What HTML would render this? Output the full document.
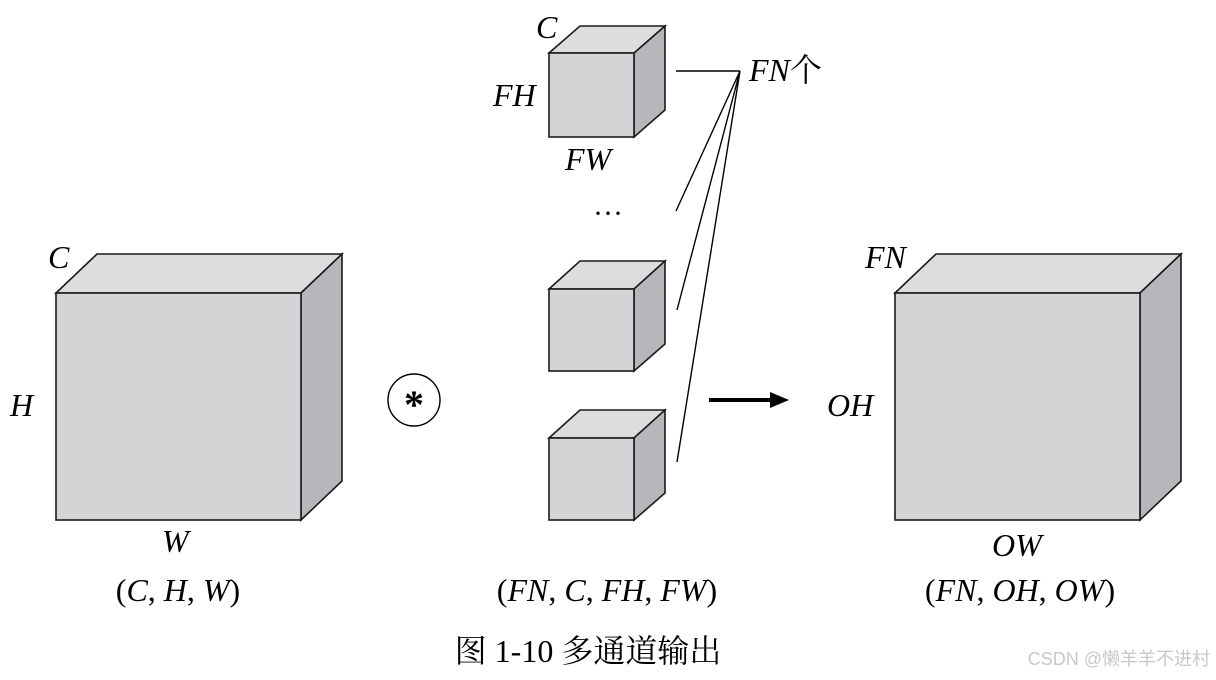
<!DOCTYPE html>
<html><head><meta charset="utf-8"><style>
body{margin:0;background:#fff;}
svg text{font-family:"Liberation Serif","Noto Serif CJK SC",serif;fill:#000;}
.i{font-style:italic;}
</style></head><body>
<svg width="1216" height="675" viewBox="0 0 1216 675" xmlns="http://www.w3.org/2000/svg">
<g stroke="#1a1a1a" stroke-width="1.6" stroke-linejoin="miter">
<!-- big left cube -->
<polygon points="56,293 97,254 342,254 301,293" fill="#dcdddf"/>
<polygon points="301,293 342,254 342,481 301,520" fill="#b6b7ba"/>
<rect x="56" y="293" width="245" height="227" fill="#d3d4d6"/>
<!-- right cube -->
<polygon points="895,293 936,254 1181,254 1140,293" fill="#dcdddf"/>
<polygon points="1140,293 1181,254 1181,481 1140,520" fill="#b6b7ba"/>
<rect x="895" y="293" width="245" height="227" fill="#d3d4d6"/>
<!-- small cubes -->
<polygon points="549,53 580,26 665,26 634,53" fill="#dcdddf"/>
<polygon points="634,53 665,26 665,110 634,137" fill="#b6b7ba"/>
<rect x="549" y="53" width="85" height="84" fill="#d3d4d6"/>
<polygon points="549,289 580,261 665,261 634,289" fill="#dcdddf"/>
<polygon points="634,289 665,261 665,344 634,371" fill="#b6b7ba"/>
<rect x="549" y="289" width="85" height="82" fill="#d3d4d6"/>
<polygon points="549,438 580,410 665,410 634,438" fill="#dcdddf"/>
<polygon points="634,438 665,410 665,493 634,520" fill="#b6b7ba"/>
<rect x="549" y="438" width="85" height="82" fill="#d3d4d6"/>
</g>
<g stroke="#000" stroke-width="1.4" fill="none">
<line x1="676" y1="71" x2="740" y2="71"/>
<line x1="740" y1="71" x2="676" y2="211"/>
<line x1="740" y1="71" x2="677" y2="310"/>
<line x1="740" y1="71" x2="677" y2="462"/>
<circle cx="414" cy="400" r="26"/>
</g>
<line x1="709" y1="400" x2="772" y2="400" stroke="#000" stroke-width="4"/>
<polygon points="770,392 789,400 770,408" fill="#000"/>
<text x="414" y="418" font-size="40" font-weight="bold" text-anchor="middle">*</text>
<text x="608" y="223" font-size="30" text-anchor="middle">···</text>
<g font-size="32">
<text class="i" x="48" y="268">C</text>
<text class="i" x="10" y="416">H</text>
<text class="i" x="162" y="552">W</text>
<text x="178" y="601" text-anchor="middle">(<tspan class="i">C</tspan>, <tspan class="i">H</tspan>, <tspan class="i">W</tspan>)</text>
<text class="i" x="536" y="38">C</text>
<text class="i" x="493" y="106">FH</text>
<text class="i" x="565" y="170">FW</text>
<text x="749" y="81"><tspan class="i">FN</tspan>个</text>
<text x="607" y="601" text-anchor="middle">(<tspan class="i">FN</tspan>, <tspan class="i">C</tspan>, <tspan class="i">FH</tspan>, <tspan class="i">FW</tspan>)</text>
<text class="i" x="865" y="268">FN</text>
<text class="i" x="827" y="416">OH</text>
<text class="i" x="992" y="556">OW</text>
<text x="1020" y="601" text-anchor="middle">(<tspan class="i">FN</tspan>, <tspan class="i">OH</tspan>, <tspan class="i">OW</tspan>)</text>
<text x="588" y="662" text-anchor="middle">图 1-10  多通道输出</text>
</g>
<text x="1210" y="665" font-size="18" text-anchor="end" style="font-family:'Liberation Sans','Noto Sans CJK SC',sans-serif;fill:#c8c8c8">CSDN @懒羊羊不进村</text>
</svg>
</body></html>
